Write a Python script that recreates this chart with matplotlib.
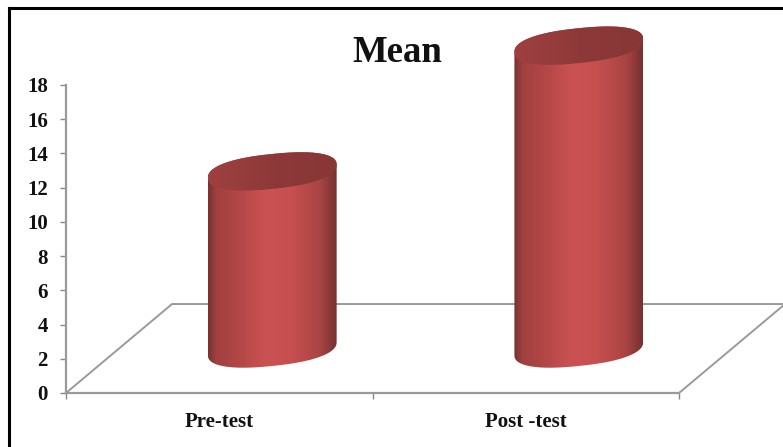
import numpy as np
import matplotlib
matplotlib.use('Agg')
import matplotlib.pyplot as plt
from matplotlib.colors import LinearSegmentedColormap
from matplotlib.lines import Line2D
from matplotlib.patches import Polygon

categories = ['Pre-test', 'Post -test']
means = [10.35, 17.7]
y_ticks = [0, 2, 4, 6, 8, 10, 12, 14, 16, 18]

W, H = 783, 447
# 3d look of the chart, all in data units
floor_dx = 0.346
floor_dy = 5.2
half_w = 0.21
ell_b = 1.02
tilt = 0.38
rnd = 0.85  # below 1 makes the ellipse a bit fuller, like the office shape

plt.rcParams['font.family'] = ['Liberation Serif', 'DejaVu Serif']

body_cmap = LinearSegmentedColormap.from_list('body', [
    (0.0, '#7a3232'), (0.06, '#a04040'), (0.25, '#b54747'), (0.45, '#cb5252'),
    (0.65, '#c64f4f'), (0.87, '#aa4444'), (1.0, '#763131')])
top_cmap = LinearSegmentedColormap.from_list('top', ['#a04040', '#8e3939', '#883636'])


def ell(t):
    c = np.sign(np.cos(t)) * np.abs(np.cos(t)) ** rnd
    s = np.sign(np.sin(t)) * np.abs(np.sin(t)) ** rnd
    return half_w * c, ell_b * s + tilt * c


def shaded(ax, pts, cmap, x0, x1, y0, y1, z):
    # gradient image cut to the outline of the cylinder part
    im = ax.imshow(np.linspace(0, 1, 200).reshape(1, -1), cmap=cmap, aspect='auto',
                   extent=(x0, x1, y0, y1), zorder=z, interpolation='bilinear')
    outline = Polygon(pts, closed=True, transform=ax.transData)
    im.set_clip_box(ax.figure.bbox)
    im.set_clip_path(outline)


def cylinder(ax, xc, val):
    xc = xc + floor_dx / 2
    base = floor_dy / 2
    top = base + val
    # lower half of the bottom ellipse, then back along the top one
    bx, by = ell(np.linspace(np.pi, 2 * np.pi, 100))
    tx, ty = ell(np.linspace(0, np.pi, 100))
    body = np.column_stack([xc + np.r_[bx, tx], np.r_[base + by, top + ty]])
    shaded(ax, body, body_cmap, xc - half_w, xc + half_w, base - 2, top + 2, 3)
    ex, ey = ell(np.linspace(0, 2 * np.pi, 200))
    cap = np.column_stack([xc + ex, top + ey])
    shaded(ax, cap, top_cmap, xc - half_w, xc + half_w, top - 2, top + 2, 4)


fig = plt.figure(figsize=(W / 100, H / 100), dpi=100, facecolor='white')
ax = fig.add_axes([66 / W, (H - 393) / H, (679 - 66) / W, (393 - 85) / H])

# floor
grey = '#9a9a9a'
ax.plot([-0.5, -0.5 + floor_dx, 1.5 + floor_dx, 1.5], [0, floor_dy, floor_dy, 0],
        color=grey, lw=1.4, clip_on=False, zorder=2)

for i, v in enumerate(means):
    cylinder(ax, i, v)

ax.set_xlim(-0.5, 1.5)
ax.set_ylim(0, 18)
for s in ['top', 'right']:
    ax.spines[s].set_visible(False)
for s in ['left', 'bottom']:
    ax.spines[s].set_color(grey)
    ax.spines[s].set_linewidth(1.6)
    ax.spines[s].set_zorder(2)

ax.set_yticks(y_ticks)
ax.set_yticklabels([str(v) for v in y_ticks], fontsize=15, fontweight='bold', color='#111111')
ax.tick_params(axis='y', length=4.5, width=1, color='#888888', pad=8.5)
ax.set_xticks(range(len(categories)))
ax.set_xticklabels(categories, fontsize=15, fontweight='bold', color='#111111')
ax.set_xticks([-0.5, 0.5, 1.5], minor=True)
ax.tick_params(axis='x', which='major', length=0, pad=13.5)
ax.tick_params(axis='x', which='minor', length=4, width=1, color='#888888')

fig.text(397 / W, 1 - 53 / H, 'Mean', fontsize=26.5, fontweight='bold', ha='center', va='center', color='#111111')

# black frame, open at right and bottom
fig.add_artist(Line2D([9 / W, 1], [1 - 8 / H, 1 - 8 / H], color='black', lw=2.2))
fig.add_artist(Line2D([9 / W, 9 / W], [0, 1 - 8 / H], color='black', lw=2.2))

fig.savefig('out.png', dpi=100)
